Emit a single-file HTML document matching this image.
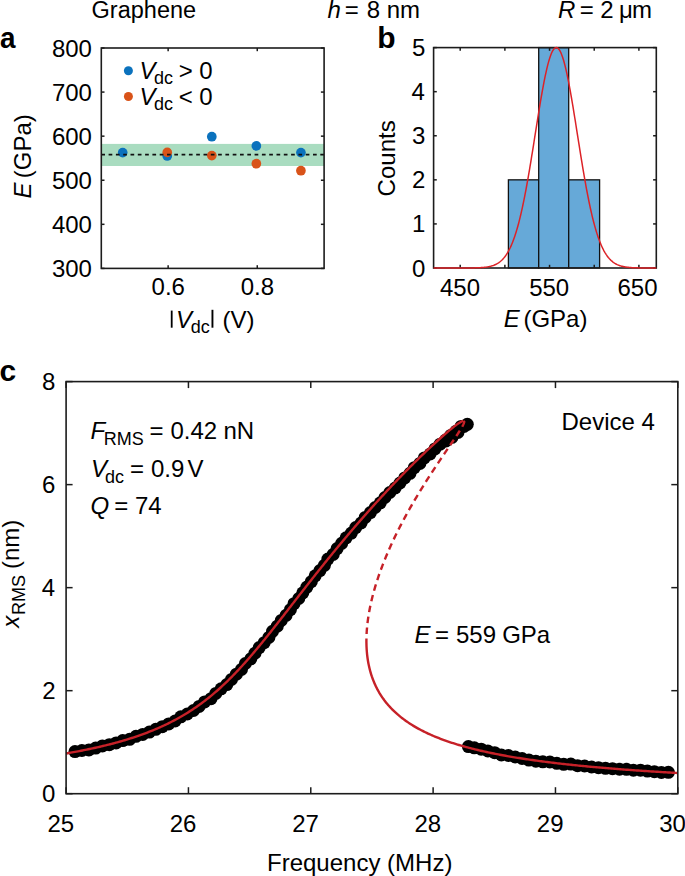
<!DOCTYPE html>
<html><head><meta charset="utf-8"><style>
html,body{margin:0;padding:0;background:#fff;}
svg{display:block;}
text{font-family:"Liberation Sans", sans-serif;fill:#000;}
</style></head><body>
<svg width="685" height="876" viewBox="0 0 685 876">
<rect width="685" height="876" fill="#fff"/>
<text x="91.60" y="17.70" font-size="23.5">Graphene</text>
<text x="327.60" y="17.50" font-size="24" font-style="italic">h</text>
<text x="344.70" y="17.50" font-size="24">=</text>
<text x="366.80" y="17.50" font-size="24">8</text>
<text x="386.70" y="17.50" font-size="24">nm</text>
<text x="558.00" y="17.50" font-size="24" font-style="italic">R</text>
<text x="579.70" y="17.50" font-size="24">=</text>
<text x="600.20" y="17.50" font-size="24">2</text>
<text x="619.10" y="17.50" font-size="24">μ</text>
<text x="631.90" y="17.50" font-size="24">m</text>
<g transform="translate(0.9,0) scale(0.93,1)">
<text x="-0.90" y="48.40" font-size="30" font-weight="bold">a</text>
</g>
<text x="377.30" y="47.70" font-size="30" font-weight="bold">b</text>
<text x="-0.60" y="381.20" font-size="30" font-weight="bold">c</text>
<rect x="101.30" y="143.90" width="222.80" height="22.10" fill="#a9dcc0"/>
<circle cx="122.68" cy="152.60" r="4.85" fill="#0b72bd"/>
<circle cx="167.24" cy="156.00" r="4.85" fill="#0b72bd"/>
<circle cx="211.80" cy="136.70" r="4.85" fill="#0b72bd"/>
<circle cx="256.36" cy="145.90" r="4.85" fill="#0b72bd"/>
<circle cx="300.92" cy="152.60" r="4.85" fill="#0b72bd"/>
<circle cx="167.24" cy="152.40" r="4.85" fill="#d95319"/>
<circle cx="211.80" cy="155.60" r="4.85" fill="#d95319"/>
<circle cx="256.36" cy="163.70" r="4.85" fill="#d95319"/>
<circle cx="300.92" cy="170.70" r="4.85" fill="#d95319"/>
<line x1="101.30" y1="154.60" x2="324.10" y2="154.60" stroke="#111" stroke-width="1.7" stroke-dasharray="3.7 3.6"/>
<rect x="101.30" y="48.00" width="222.80" height="220.40" fill="none" stroke="#1c1c1c" stroke-width="1.6"/>
<line x1="101.30" y1="268.40" x2="104.50" y2="268.40" stroke="#1c1c1c" stroke-width="1.5" />
<line x1="324.10" y1="268.40" x2="320.90" y2="268.40" stroke="#1c1c1c" stroke-width="1.5" />
<text x="51.90" y="276.90" font-size="24">300</text>
<line x1="101.30" y1="224.32" x2="104.50" y2="224.32" stroke="#1c1c1c" stroke-width="1.5" />
<line x1="324.10" y1="224.32" x2="320.90" y2="224.32" stroke="#1c1c1c" stroke-width="1.5" />
<text x="51.90" y="232.82" font-size="24">400</text>
<line x1="101.30" y1="180.24" x2="104.50" y2="180.24" stroke="#1c1c1c" stroke-width="1.5" />
<line x1="324.10" y1="180.24" x2="320.90" y2="180.24" stroke="#1c1c1c" stroke-width="1.5" />
<text x="51.90" y="188.74" font-size="24">500</text>
<line x1="101.30" y1="136.16" x2="104.50" y2="136.16" stroke="#1c1c1c" stroke-width="1.5" />
<line x1="324.10" y1="136.16" x2="320.90" y2="136.16" stroke="#1c1c1c" stroke-width="1.5" />
<text x="51.90" y="144.66" font-size="24">600</text>
<line x1="101.30" y1="92.08" x2="104.50" y2="92.08" stroke="#1c1c1c" stroke-width="1.5" />
<line x1="324.10" y1="92.08" x2="320.90" y2="92.08" stroke="#1c1c1c" stroke-width="1.5" />
<text x="51.90" y="100.58" font-size="24">700</text>
<line x1="101.30" y1="48.00" x2="104.50" y2="48.00" stroke="#1c1c1c" stroke-width="1.5" />
<line x1="324.10" y1="48.00" x2="320.90" y2="48.00" stroke="#1c1c1c" stroke-width="1.5" />
<text x="51.90" y="56.50" font-size="24">800</text>
<line x1="168.14" y1="268.40" x2="168.14" y2="265.20" stroke="#1c1c1c" stroke-width="1.5" />
<line x1="168.14" y1="48.00" x2="168.14" y2="51.20" stroke="#1c1c1c" stroke-width="1.5" />
<text x="151.54" y="295.40" font-size="24">0.6</text>
<line x1="257.26" y1="268.40" x2="257.26" y2="265.20" stroke="#1c1c1c" stroke-width="1.5" />
<line x1="257.26" y1="48.00" x2="257.26" y2="51.20" stroke="#1c1c1c" stroke-width="1.5" />
<text x="240.66" y="295.40" font-size="24">0.8</text>
<circle cx="128.4" cy="70.8" r="4.5" fill="#0b72bd"/>
<circle cx="128.4" cy="96.5" r="4.5" fill="#d95319"/>
<text x="139.40" y="78.70" font-size="24" font-style="italic">V</text>
<text x="154.00" y="84.00" font-size="18">dc</text>
<text x="178.80" y="78.70" font-size="24">&gt;</text>
<text x="199.30" y="78.70" font-size="24">0</text>
<text x="139.40" y="105.00" font-size="24" font-style="italic">V</text>
<text x="154.00" y="110.30" font-size="18">dc</text>
<text x="178.80" y="105.00" font-size="24">&lt;</text>
<text x="199.30" y="105.00" font-size="24">0</text>
<g transform="translate(31.00,197.90) rotate(-90)">
<text x="-0.70" y="0.00" font-size="24" font-style="italic">E</text>
<text x="19.70" y="0.00" font-size="24">(GPa)</text>
</g>
<rect x="170.8" y="310.6" width="1.8" height="17.1" fill="#000"/>
<text x="176.10" y="327.70" font-size="24" font-style="italic">V</text>
<text x="190.70" y="333.20" font-size="18">dc</text>
<rect x="211.5" y="309.8" width="1.9" height="17.9" fill="#000"/>
<text x="222.40" y="327.70" font-size="24">(V)</text>
<rect x="508.40" y="179.84" width="30.30" height="88.16" fill="#66a9d8" stroke="#111" stroke-width="1.3"/>
<rect x="538.70" y="47.60" width="30.00" height="220.40" fill="#66a9d8" stroke="#111" stroke-width="1.3"/>
<rect x="568.70" y="179.84" width="30.90" height="88.16" fill="#66a9d8" stroke="#111" stroke-width="1.3"/>
<rect x="433.60" y="47.60" width="222.70" height="220.40" fill="none" stroke="#1c1c1c" stroke-width="1.6"/>
<line x1="433.60" y1="268.00" x2="436.80" y2="268.00" stroke="#1c1c1c" stroke-width="1.5" />
<line x1="656.30" y1="268.00" x2="653.10" y2="268.00" stroke="#1c1c1c" stroke-width="1.5" />
<text x="411.90" y="276.50" font-size="24">0</text>
<line x1="433.60" y1="223.92" x2="436.80" y2="223.92" stroke="#1c1c1c" stroke-width="1.5" />
<line x1="656.30" y1="223.92" x2="653.10" y2="223.92" stroke="#1c1c1c" stroke-width="1.5" />
<text x="412.10" y="232.42" font-size="24">1</text>
<line x1="433.60" y1="179.84" x2="436.80" y2="179.84" stroke="#1c1c1c" stroke-width="1.5" />
<line x1="656.30" y1="179.84" x2="653.10" y2="179.84" stroke="#1c1c1c" stroke-width="1.5" />
<text x="412.10" y="188.34" font-size="24">2</text>
<line x1="433.60" y1="135.76" x2="436.80" y2="135.76" stroke="#1c1c1c" stroke-width="1.5" />
<line x1="656.30" y1="135.76" x2="653.10" y2="135.76" stroke="#1c1c1c" stroke-width="1.5" />
<text x="412.00" y="144.26" font-size="24">3</text>
<line x1="433.60" y1="91.68" x2="436.80" y2="91.68" stroke="#1c1c1c" stroke-width="1.5" />
<line x1="656.30" y1="91.68" x2="653.10" y2="91.68" stroke="#1c1c1c" stroke-width="1.5" />
<text x="411.60" y="100.18" font-size="24">4</text>
<line x1="433.60" y1="47.60" x2="436.80" y2="47.60" stroke="#1c1c1c" stroke-width="1.5" />
<line x1="656.30" y1="47.60" x2="653.10" y2="47.60" stroke="#1c1c1c" stroke-width="1.5" />
<text x="412.00" y="56.10" font-size="24">5</text>
<line x1="460.20" y1="268.00" x2="460.20" y2="264.80" stroke="#1c1c1c" stroke-width="1.5" />
<line x1="460.20" y1="47.60" x2="460.20" y2="50.80" stroke="#1c1c1c" stroke-width="1.5" />
<line x1="504.88" y1="268.00" x2="504.88" y2="264.80" stroke="#1c1c1c" stroke-width="1.5" />
<line x1="504.88" y1="47.60" x2="504.88" y2="50.80" stroke="#1c1c1c" stroke-width="1.5" />
<line x1="549.55" y1="268.00" x2="549.55" y2="264.80" stroke="#1c1c1c" stroke-width="1.5" />
<line x1="549.55" y1="47.60" x2="549.55" y2="50.80" stroke="#1c1c1c" stroke-width="1.5" />
<line x1="594.23" y1="268.00" x2="594.23" y2="264.80" stroke="#1c1c1c" stroke-width="1.5" />
<line x1="594.23" y1="47.60" x2="594.23" y2="50.80" stroke="#1c1c1c" stroke-width="1.5" />
<line x1="638.90" y1="268.00" x2="638.90" y2="264.80" stroke="#1c1c1c" stroke-width="1.5" />
<line x1="638.90" y1="47.60" x2="638.90" y2="50.80" stroke="#1c1c1c" stroke-width="1.5" />
<text x="440.00" y="296.00" font-size="24">450</text>
<text x="529.15" y="296.00" font-size="24">550</text>
<text x="617.45" y="296.00" font-size="24">650</text>
<path d="M433.60,268.00 L434.16,268.00 L434.72,268.00 L435.27,268.00 L435.83,268.00 L436.39,268.00 L436.95,268.00 L437.51,268.00 L438.07,268.00 L438.62,268.00 L439.18,268.00 L439.74,268.00 L440.30,268.00 L440.86,268.00 L441.41,268.00 L441.97,268.00 L442.53,268.00 L443.09,268.00 L443.65,268.00 L444.20,268.00 L444.76,268.00 L445.32,268.00 L445.88,268.00 L446.44,268.00 L447.00,268.00 L447.55,268.00 L448.11,268.00 L448.67,268.00 L449.23,268.00 L449.79,268.00 L450.34,268.00 L450.90,268.00 L451.46,268.00 L452.02,268.00 L452.58,268.00 L453.14,268.00 L453.69,268.00 L454.25,268.00 L454.81,268.00 L455.37,268.00 L455.93,268.00 L456.48,268.00 L457.04,268.00 L457.60,268.00 L458.16,268.00 L458.72,268.00 L459.27,267.99 L459.83,267.99 L460.39,267.99 L460.95,267.99 L461.51,267.99 L462.07,267.99 L462.62,267.99 L463.18,267.99 L463.74,267.99 L464.30,267.98 L464.86,267.98 L465.41,267.98 L465.97,267.98 L466.53,267.97 L467.09,267.97 L467.65,267.97 L468.21,267.96 L468.76,267.96 L469.32,267.95 L469.88,267.95 L470.44,267.94 L471.00,267.94 L471.55,267.93 L472.11,267.92 L472.67,267.91 L473.23,267.91 L473.79,267.89 L474.34,267.88 L474.90,267.87 L475.46,267.86 L476.02,267.84 L476.58,267.82 L477.14,267.81 L477.69,267.79 L478.25,267.76 L478.81,267.74 L479.37,267.71 L479.93,267.69 L480.48,267.65 L481.04,267.62 L481.60,267.58 L482.16,267.54 L482.72,267.50 L483.27,267.45 L483.83,267.39 L484.39,267.34 L484.95,267.28 L485.51,267.21 L486.07,267.13 L486.62,267.06 L487.18,266.97 L487.74,266.88 L488.30,266.78 L488.86,266.67 L489.41,266.55 L489.97,266.42 L490.53,266.29 L491.09,266.14 L491.65,265.98 L492.21,265.81 L492.76,265.63 L493.32,265.44 L493.88,265.23 L494.44,265.00 L495.00,264.76 L495.55,264.51 L496.11,264.23 L496.67,263.94 L497.23,263.62 L497.79,263.29 L498.34,262.93 L498.90,262.55 L499.46,262.15 L500.02,261.72 L500.58,261.26 L501.14,260.77 L501.69,260.26 L502.25,259.71 L502.81,259.13 L503.37,258.52 L503.93,257.88 L504.48,257.19 L505.04,256.47 L505.60,255.71 L506.16,254.91 L506.72,254.06 L507.28,253.18 L507.83,252.24 L508.39,251.26 L508.95,250.23 L509.51,249.15 L510.07,248.02 L510.62,246.83 L511.18,245.59 L511.74,244.30 L512.30,242.95 L512.86,241.53 L513.41,240.06 L513.97,238.53 L514.53,236.93 L515.09,235.28 L515.65,233.55 L516.21,231.76 L516.76,229.91 L517.32,227.99 L517.88,226.00 L518.44,223.94 L519.00,221.82 L519.55,219.62 L520.11,217.36 L520.67,215.03 L521.23,212.63 L521.79,210.16 L522.35,207.62 L522.90,205.02 L523.46,202.35 L524.02,199.61 L524.58,196.81 L525.14,193.95 L525.69,191.03 L526.25,188.05 L526.81,185.01 L527.37,181.91 L527.93,178.76 L528.48,175.56 L529.04,172.32 L529.60,169.02 L530.16,165.69 L530.72,162.32 L531.28,158.91 L531.83,155.48 L532.39,152.01 L532.95,148.52 L533.51,145.02 L534.07,141.50 L534.62,137.97 L535.18,134.43 L535.74,130.90 L536.30,127.37 L536.86,123.85 L537.42,120.34 L537.97,116.86 L538.53,113.40 L539.09,109.97 L539.65,106.58 L540.21,103.23 L540.76,99.93 L541.32,96.69 L541.88,93.50 L542.44,90.38 L543.00,87.33 L543.55,84.35 L544.11,81.46 L544.67,78.66 L545.23,75.94 L545.79,73.33 L546.35,70.81 L546.90,68.41 L547.46,66.11 L548.02,63.93 L548.58,61.88 L549.14,59.94 L549.69,58.14 L550.25,56.47 L550.81,54.93 L551.37,53.54 L551.93,52.28 L552.48,51.17 L553.04,50.21 L553.60,49.40 L554.16,48.73 L554.72,48.22 L555.28,47.86 L555.83,47.65 L556.39,47.60 L556.95,47.70 L557.51,47.96 L558.07,48.37 L558.62,48.93 L559.18,49.65 L559.74,50.51 L560.30,51.52 L560.86,52.68 L561.42,53.98 L561.97,55.42 L562.53,57.01 L563.09,58.72 L563.65,60.57 L564.21,62.54 L564.76,64.64 L565.32,66.86 L565.88,69.19 L566.44,71.63 L567.00,74.18 L567.55,76.83 L568.11,79.57 L568.67,82.41 L569.23,85.33 L569.79,88.33 L570.35,91.40 L570.90,94.54 L571.46,97.75 L572.02,101.01 L572.58,104.33 L573.14,107.69 L573.69,111.10 L574.25,114.53 L574.81,118.00 L575.37,121.49 L575.93,125.00 L576.49,128.53 L577.04,132.06 L577.60,135.60 L578.16,139.13 L578.72,142.66 L579.28,146.18 L579.83,149.68 L580.39,153.16 L580.95,156.61 L581.51,160.04 L582.07,163.43 L582.62,166.79 L583.18,170.11 L583.74,173.39 L584.30,176.62 L584.86,179.80 L585.42,182.94 L585.97,186.01 L586.53,189.04 L587.09,192.00 L587.65,194.90 L588.21,197.74 L588.76,200.52 L589.32,203.24 L589.88,205.88 L590.44,208.47 L591.00,210.98 L591.56,213.43 L592.11,215.80 L592.67,218.11 L593.23,220.35 L593.79,222.52 L594.35,224.63 L594.90,226.66 L595.46,228.63 L596.02,230.53 L596.58,232.36 L597.14,234.13 L597.69,235.83 L598.25,237.47 L598.81,239.04 L599.37,240.55 L599.93,242.01 L600.49,243.40 L601.04,244.73 L601.60,246.01 L602.16,247.23 L602.72,248.40 L603.28,249.51 L603.83,250.58 L604.39,251.59 L604.95,252.56 L605.51,253.47 L606.07,254.35 L606.63,255.18 L607.18,255.97 L607.74,256.71 L608.30,257.42 L608.86,258.09 L609.42,258.73 L609.97,259.33 L610.53,259.90 L611.09,260.43 L611.65,260.94 L612.21,261.41 L612.76,261.86 L613.32,262.28 L613.88,262.68 L614.44,263.05 L615.00,263.40 L615.56,263.73 L616.11,264.04 L616.67,264.32 L617.23,264.59 L617.79,264.84 L618.35,265.08 L618.90,265.30 L619.46,265.50 L620.02,265.69 L620.58,265.87 L621.14,266.04 L621.69,266.19 L622.25,266.33 L622.81,266.47 L623.37,266.59 L623.93,266.70 L624.49,266.81 L625.04,266.91 L625.60,267.00 L626.16,267.08 L626.72,267.16 L627.28,267.23 L627.83,267.30 L628.39,267.36 L628.95,267.41 L629.51,267.46 L630.07,267.51 L630.63,267.55 L631.18,267.59 L631.74,267.63 L632.30,267.66 L632.86,267.69 L633.42,267.72 L633.97,267.75 L634.53,267.77 L635.09,267.79 L635.65,267.81 L636.21,267.83 L636.76,267.85 L637.32,267.86 L637.88,267.87 L638.44,267.89 L639.00,267.90 L639.56,267.91 L640.11,267.92 L640.67,267.93 L641.23,267.93 L641.79,267.94 L642.35,267.95 L642.90,267.95 L643.46,267.96 L644.02,267.96 L644.58,267.97 L645.14,267.97 L645.70,267.97 L646.25,267.98 L646.81,267.98 L647.37,267.98 L647.93,267.98 L648.49,267.98 L649.04,267.99 L649.60,267.99 L650.16,267.99 L650.72,267.99 L651.28,267.99 L651.83,267.99 L652.39,267.99 L652.95,267.99 L653.51,267.99 L654.07,268.00 L654.63,268.00 L655.18,268.00 L655.74,268.00 L656.30,268.00" fill="none" stroke="#dc2227" stroke-width="1.5"/>
<g transform="translate(395.00,195.20) rotate(-90)">
<text x="-1.20" y="0.00" font-size="24">Counts</text>
</g>
<text x="503.80" y="327.00" font-size="24" font-style="italic">E</text>
<text x="523.40" y="327.00" font-size="24">(GPa)</text>
<g fill="#000"><circle cx="75.0" cy="751.6" r="6.5"/><circle cx="81.9" cy="750.5" r="6.5"/><circle cx="88.9" cy="749.9" r="6.5"/><circle cx="95.7" cy="748.1" r="6.5"/><circle cx="102.4" cy="745.9" r="6.5"/><circle cx="109.3" cy="744.7" r="6.5"/><circle cx="116.1" cy="742.9" r="6.5"/><circle cx="122.7" cy="740.6" r="6.5"/><circle cx="129.6" cy="739.3" r="6.5"/><circle cx="136.0" cy="736.3" r="6.5"/><circle cx="142.7" cy="734.4" r="6.5"/><circle cx="149.4" cy="732.1" r="6.5"/><circle cx="155.8" cy="729.3" r="6.5"/><circle cx="162.3" cy="726.7" r="6.5"/><circle cx="168.7" cy="723.9" r="6.5"/><circle cx="175.1" cy="721.0" r="6.5"/><circle cx="180.8" cy="716.8" r="6.5"/><circle cx="187.3" cy="714.0" r="6.5"/><circle cx="193.5" cy="710.5" r="6.5"/><circle cx="199.1" cy="706.4" r="6.5"/><circle cx="204.6" cy="701.9" r="6.5"/><circle cx="211.0" cy="698.7" r="6.5"/><circle cx="215.8" cy="693.4" r="6.5"/><circle cx="221.1" cy="688.8" r="6.5"/><circle cx="226.8" cy="684.6" r="6.5"/><circle cx="231.5" cy="679.4" r="6.5"/><circle cx="236.4" cy="674.2" r="6.5"/><circle cx="241.5" cy="669.4" r="6.5"/><circle cx="245.4" cy="663.5" r="6.5"/><circle cx="250.8" cy="658.8" r="6.5"/><circle cx="255.0" cy="653.2" r="6.5"/><circle cx="259.2" cy="647.6" r="6.5"/><circle cx="264.2" cy="642.7" r="6.5"/><circle cx="268.9" cy="637.4" r="6.5"/><circle cx="272.5" cy="631.3" r="6.5"/><circle cx="277.3" cy="626.2" r="6.5"/><circle cx="281.3" cy="620.4" r="6.5"/><circle cx="286.1" cy="615.3" r="6.5"/><circle cx="290.4" cy="609.7" r="6.5"/><circle cx="294.0" cy="603.7" r="6.5"/><circle cx="298.8" cy="598.5" r="6.5"/><circle cx="302.8" cy="592.8" r="6.5"/><circle cx="306.9" cy="587.1" r="6.5"/><circle cx="311.3" cy="581.7" r="6.5"/><circle cx="315.2" cy="575.8" r="6.5"/><circle cx="319.9" cy="570.6" r="6.5"/><circle cx="324.4" cy="565.3" r="6.5"/><circle cx="327.9" cy="559.1" r="6.5"/><circle cx="333.2" cy="554.4" r="6.5"/><circle cx="337.1" cy="548.6" r="6.5"/><circle cx="341.7" cy="543.3" r="6.5"/><circle cx="346.1" cy="537.8" r="6.5"/><circle cx="351.4" cy="533.1" r="6.5"/><circle cx="355.7" cy="527.6" r="6.5"/><circle cx="361.1" cy="523.0" r="6.5"/><circle cx="365.2" cy="517.4" r="6.5"/><circle cx="370.4" cy="512.6" r="6.5"/><circle cx="375.2" cy="507.5" r="6.5"/><circle cx="380.3" cy="502.8" r="6.5"/><circle cx="384.9" cy="497.5" r="6.5"/><circle cx="389.8" cy="492.5" r="6.5"/><circle cx="395.2" cy="488.0" r="6.5"/><circle cx="400.0" cy="483.0" r="6.5"/><circle cx="404.7" cy="477.9" r="6.5"/><circle cx="410.0" cy="473.3" r="6.5"/><circle cx="414.3" cy="467.7" r="6.5"/><circle cx="419.9" cy="463.4" r="6.5"/><circle cx="424.3" cy="457.9" r="6.5"/><circle cx="430.1" cy="454.0" r="6.5"/><circle cx="434.9" cy="448.9" r="6.5"/><circle cx="440.1" cy="444.2" r="6.5"/><circle cx="445.6" cy="440.1" r="6.5"/><circle cx="450.7" cy="435.4" r="6.5"/><circle cx="456.1" cy="431.2" r="6.5"/><circle cx="461.1" cy="426.4" r="6.5"/><circle cx="467.3" cy="424.3" r="6.5"/><circle cx="464.0" cy="426.5" r="6.5"/><circle cx="446.0" cy="441.0" r="6.5"/><circle cx="452.0" cy="437.3" r="6.5"/><circle cx="458.0" cy="432.5" r="6.5"/></g>
<g fill="#000"><circle cx="474.3" cy="747.8" r="6.5"/><circle cx="481.2" cy="749.2" r="6.5"/><circle cx="487.9" cy="751.0" r="6.5"/><circle cx="494.7" cy="752.7" r="6.5"/><circle cx="501.4" cy="755.0" r="6.5"/><circle cx="508.4" cy="755.5" r="6.5"/><circle cx="515.2" cy="757.0" r="6.5"/><circle cx="522.1" cy="758.5" r="6.5"/><circle cx="528.9" cy="760.1" r="6.5"/><circle cx="535.9" cy="761.2" r="6.5"/><circle cx="542.8" cy="761.8" r="6.5"/><circle cx="549.9" cy="762.0" r="6.5"/><circle cx="556.8" cy="763.3" r="6.5"/><circle cx="563.7" cy="764.3" r="6.5"/><circle cx="570.8" cy="764.1" r="6.5"/><circle cx="577.6" cy="765.7" r="6.5"/><circle cx="584.6" cy="766.0" r="6.5"/><circle cx="591.6" cy="767.0" r="6.5"/><circle cx="598.5" cy="767.7" r="6.5"/><circle cx="605.5" cy="768.3" r="6.5"/><circle cx="612.5" cy="768.7" r="6.5"/><circle cx="619.5" cy="769.2" r="6.5"/><circle cx="626.5" cy="769.3" r="6.5"/><circle cx="633.4" cy="770.2" r="6.5"/><circle cx="640.5" cy="770.2" r="6.5"/><circle cx="647.4" cy="771.1" r="6.5"/><circle cx="654.4" cy="771.7" r="6.5"/><circle cx="661.4" cy="772.4" r="6.5"/><circle cx="668.4" cy="772.3" r="6.5"/><circle cx="468.4" cy="746.6" r="6.5"/></g>
<path d="M66.11,753.46 L67.59,753.21 L69.07,752.95 L70.55,752.69 L72.02,752.43 L73.50,752.16 L74.97,751.89 L76.45,751.62 L77.92,751.34 L79.40,751.06 L80.87,750.77 L82.34,750.49 L83.81,750.19 L85.28,749.90 L86.75,749.60 L88.22,749.30 L89.69,748.99 L91.16,748.68 L92.62,748.36 L94.09,748.04 L95.55,747.72 L97.02,747.39 L98.48,747.06 L99.94,746.72 L101.40,746.38 L102.86,746.03 L104.32,745.68 L105.78,745.33 L107.23,744.96 L108.69,744.60 L110.14,744.23 L111.59,743.85 L113.04,743.47 L114.49,743.09 L115.94,742.69 L117.39,742.30 L118.83,741.89 L120.28,741.49 L121.72,741.07 L123.16,740.65 L124.60,740.23 L126.03,739.79 L127.47,739.36 L128.90,738.91 L130.33,738.46 L131.76,738.00 L133.19,737.54 L134.61,737.07 L136.03,736.59 L137.45,736.11 L138.87,735.62 L140.29,735.12 L141.70,734.62 L143.11,734.11 L144.52,733.59 L145.92,733.06 L147.32,732.53 L148.72,731.99 L150.12,731.44 L151.51,730.88 L152.90,730.32 L154.29,729.75 L155.67,729.17 L157.05,728.58 L158.43,727.98 L159.80,727.38 L161.17,726.76 L162.53,726.14 L163.89,725.51 L165.25,724.87 L166.61,724.23 L167.95,723.57 L169.30,722.91 L170.64,722.23 L171.98,721.55 L173.31,720.86 L174.64,720.16 L175.96,719.46 L177.27,718.74 L178.59,718.01 L179.90,717.28 L181.20,716.53 L182.50,715.78 L183.79,715.02 L185.07,714.25 L186.36,713.47 L187.63,712.68 L188.90,711.88 L190.17,711.08 L191.43,710.26 L192.68,709.44 L193.93,708.61 L195.17,707.76 L196.41,706.91 L197.64,706.06 L198.86,705.19 L200.08,704.31 L201.29,703.43 L202.50,702.54 L203.70,701.64 L204.89,700.73 L206.08,699.81 L207.26,698.89 L208.44,697.96 L209.61,697.02 L210.77,696.07 L211.93,695.12 L213.08,694.16 L214.22,693.19 L215.36,692.21 L216.50,691.23 L217.62,690.24 L218.75,689.25 L219.86,688.24 L220.97,687.24 L222.08,686.22 L223.18,685.20 L224.27,684.17 L225.36,683.14 L226.44,682.10 L227.52,681.06 L228.59,680.01 L229.65,678.95 L230.72,677.89 L231.77,676.83 L232.82,675.76 L233.87,674.69 L234.91,673.61 L235.95,672.52 L236.98,671.44 L238.01,670.34 L239.04,669.25 L240.06,668.15 L241.07,667.04 L242.08,665.94 L243.09,664.82 L244.09,663.71 L245.09,662.59 L246.09,661.47 L247.08,660.35 L248.07,659.22 L249.06,658.09 L250.04,656.95 L251.02,655.82 L252.00,654.68 L252.97,653.54 L253.94,652.39 L254.91,651.25 L255.87,650.10 L256.83,648.95 L257.79,647.80 L258.75,646.64 L259.71,645.48 L260.66,644.33 L261.61,643.16 L262.56,642.00 L263.50,640.84 L264.45,639.67 L265.39,638.51 L266.33,637.34 L267.27,636.17 L268.21,635.00 L269.15,633.83 L270.08,632.65 L271.01,631.48 L271.95,630.31 L272.88,629.13 L273.81,627.95 L274.74,626.77 L275.67,625.60 L276.59,624.42 L277.52,623.24 L278.44,622.06 L279.37,620.87 L280.29,619.69 L281.22,618.51 L282.14,617.33 L283.06,616.15 L283.98,614.96 L284.90,613.78 L285.82,612.59 L286.74,611.41 L287.67,610.23 L288.59,609.04 L289.51,607.86 L290.43,606.67 L291.35,605.49 L292.27,604.30 L293.19,603.12 L294.11,601.93 L295.03,600.75 L295.95,599.56 L296.87,598.38 L297.79,597.20 L298.71,596.01 L299.63,594.83 L300.55,593.64 L301.47,592.46 L302.40,591.28 L303.32,590.10 L304.24,588.91 L305.17,587.73 L306.09,586.55 L307.02,585.37 L307.94,584.19 L308.87,583.01 L309.80,581.83 L310.72,580.65 L311.65,579.47 L312.58,578.30 L313.51,577.12 L314.44,575.94 L315.37,574.77 L316.30,573.59 L317.24,572.42 L318.17,571.24 L319.11,570.07 L320.04,568.90 L320.98,567.73 L321.92,566.56 L322.85,565.39 L323.79,564.22 L324.73,563.05 L325.68,561.88 L326.62,560.71 L327.56,559.55 L328.51,558.38 L329.45,557.22 L330.40,556.05 L331.35,554.89 L332.30,553.73 L333.25,552.57 L334.20,551.41 L335.15,550.25 L336.10,549.09 L337.06,547.94 L338.01,546.78 L338.97,545.62 L339.93,544.47 L340.89,543.32 L341.85,542.17 L342.81,541.01 L343.77,539.86 L344.74,538.72 L345.70,537.57 L346.67,536.42 L347.64,535.28 L348.61,534.13 L349.58,532.99 L350.55,531.84 L351.53,530.70 L352.50,529.56 L353.48,528.42 L354.45,527.29 L355.43,526.15 L356.41,525.01 L357.39,523.88 L358.38,522.75 L359.36,521.61 L360.35,520.48 L361.33,519.35 L362.32,518.23 L363.31,517.10 L364.30,515.97 L365.29,514.85 L366.29,513.72 L367.28,512.60 L368.28,511.48 L369.28,510.36 L370.28,509.24 L371.28,508.12 L372.28,507.01 L373.28,505.89 L374.29,504.78 L375.29,503.67 L376.30,502.56 L377.31,501.45 L378.32,500.34 L379.33,499.23 L380.35,498.13 L381.36,497.02 L382.38,495.92 L383.40,494.82 L384.42,493.72 L385.44,492.62 L386.46,491.52 L387.48,490.42 L388.51,489.33 L389.54,488.24 L390.57,487.14 L391.60,486.05 L392.63,484.97 L393.66,483.88 L394.69,482.79 L395.73,481.71 L396.77,480.62 L397.81,479.54 L398.85,478.46 L399.89,477.38 L400.93,476.31 L401.98,475.23 L403.03,474.16 L404.08,473.08 L405.13,472.01 L406.18,470.94 L407.23,469.88 L408.29,468.81 L409.34,467.75 L410.40,466.68 L411.46,465.62 L412.53,464.56 L413.59,463.51 L414.65,462.45 L415.72,461.40 L416.79,460.34 L417.86,459.29 L418.93,458.24 L420.01,457.20 L421.09,456.15 L422.16,455.11 L423.24,454.07 L424.33,453.03 L425.41,451.99 L426.50,450.96 L427.59,449.93 L428.68,448.90 L429.77,447.87 L430.86,446.85 L431.96,445.82 L433.06,444.80 L434.16,443.79 L435.27,442.77 L436.38,441.76 L437.49,440.75 L438.60,439.75 L439.72,438.74 L440.84,437.75 L441.96,436.75 L443.08,435.76 L444.21,434.77 L445.35,433.79 L446.49,432.82 L447.63,431.84 L448.78,430.88 L449.93,429.92 L451.09,428.97 L452.26,428.03 L453.43,427.09 L454.62,426.17 L455.81,425.26 L457.02,424.38 L458.24,423.51 L459.49,422.68 L460.77,421.90 L462.11,421.22 L463.40,420.84" fill="none" stroke="#c62128" stroke-width="2.4" stroke-linejoin="round"/>
<path d="M463.61,420.84 L464.25,421.97 L463.83,423.41 L463.22,424.78 L462.53,426.11 L461.79,427.41 L461.03,428.71 L460.25,429.99 L459.45,431.26 L458.64,432.52 L457.83,433.78 L457.01,435.03 L456.18,436.29 L455.35,437.53 L454.51,438.78 L453.67,440.02 L452.83,441.27 L451.99,442.51 L451.15,443.75 L450.31,444.99 L449.46,446.23 L448.62,447.47 L447.77,448.71 L446.93,449.95 L446.09,451.19 L445.24,452.43 L444.40,453.67 L443.56,454.91 L442.72,456.15 L441.88,457.40 L441.04,458.64 L440.20,459.88 L439.36,461.13 L438.53,462.38 L437.69,463.62 L436.86,464.87 L436.03,466.12 L435.20,467.37 L434.38,468.62 L433.55,469.88 L432.73,471.13 L431.91,472.39 L431.09,473.64 L430.27,474.90 L429.46,476.16 L428.65,477.42 L427.84,478.68 L427.03,479.95 L426.23,481.21 L425.42,482.48 L424.62,483.75 L423.83,485.02 L423.03,486.29 L422.24,487.57 L421.45,488.84 L420.67,490.12 L419.88,491.40 L419.10,492.68 L418.32,493.96 L417.55,495.25 L416.78,496.53 L416.01,497.82 L415.24,499.11 L414.48,500.40 L413.72,501.70 L412.97,502.99 L412.21,504.29 L411.47,505.59 L410.72,506.89 L409.98,508.20 L409.24,509.50 L408.50,510.81 L407.77,512.12 L407.04,513.43 L406.32,514.74 L405.60,516.06 L404.88,517.38 L404.17,518.70 L403.46,520.02 L402.76,521.34 L402.06,522.67 L401.36,524.00 L400.67,525.33 L399.98,526.66 L399.30,528.00 L398.62,529.33 L397.94,530.67 L397.27,532.02 L396.60,533.36 L395.94,534.71 L395.29,536.05 L394.63,537.40 L393.99,538.76 L393.34,540.11 L392.71,541.47 L392.07,542.83 L391.44,544.19 L390.82,545.56 L390.20,546.92 L389.59,548.29 L388.99,549.67 L388.38,551.04 L387.79,552.42 L387.20,553.80 L386.61,555.18 L386.03,556.56 L385.46,557.95 L384.89,559.34 L384.33,560.73 L383.78,562.12 L383.23,563.52 L382.69,564.91 L382.15,566.32 L381.62,567.72 L381.10,569.12 L380.58,570.53 L380.07,571.94 L379.57,573.36 L379.07,574.77 L378.58,576.19 L378.10,577.61 L377.63,579.03 L377.16,580.46 L376.70,581.89 L376.25,583.32 L375.81,584.75 L375.37,586.19 L374.94,587.62 L374.52,589.06 L374.11,590.51 L373.71,591.95 L373.32,593.40 L372.93,594.85 L372.56,596.30 L372.19,597.76 L371.83,599.21 L371.48,600.67 L371.15,602.13 L370.82,603.60 L370.50,605.06 L370.19,606.53 L369.89,608.00 L369.61,609.47 L369.33,610.95 L369.06,612.42 L368.81,613.90 L368.57,615.38 L368.33,616.86 L368.12,618.35 L367.91,619.83 L367.71,621.32 L367.53,622.81 L367.36,624.30 L367.20,625.79 L367.06,627.28 L366.93,628.78 L366.81,630.27 L366.71,631.77 L366.63,633.27 L366.55,634.77 L366.49,636.27 L366.45,637.77 L366.43,639.26 L366.41,640.76 L366.41,641.03" fill="none" stroke="#c62128" stroke-width="2.4" stroke-dasharray="6.5 4.5"/>
<path d="M366.41,641.03 L366.42,642.53 L366.45,644.03 L366.49,645.53 L366.55,647.03 L366.62,648.53 L366.72,650.03 L366.83,651.52 L366.96,653.02 L367.11,654.51 L367.28,656.00 L367.47,657.49 L367.68,658.97 L367.91,660.46 L368.16,661.93 L368.43,663.41 L368.72,664.88 L369.03,666.35 L369.37,667.81 L369.73,669.27 L370.11,670.72 L370.51,672.16 L370.93,673.60 L371.38,675.03 L371.85,676.46 L372.35,677.87 L372.86,679.28 L373.40,680.68 L373.97,682.07 L374.56,683.45 L375.17,684.82 L375.81,686.18 L376.47,687.52 L377.15,688.86 L377.86,690.18 L378.59,691.49 L379.34,692.79 L380.12,694.07 L380.92,695.34 L381.74,696.59 L382.59,697.83 L383.46,699.06 L384.34,700.27 L385.25,701.46 L386.18,702.64 L387.13,703.80 L388.10,704.94 L389.09,706.07 L390.10,707.18 L391.13,708.27 L392.18,709.35 L393.24,710.41 L394.32,711.45 L395.41,712.47 L396.52,713.48 L397.65,714.47 L398.79,715.44 L399.95,716.40 L401.12,717.34 L402.30,718.26 L403.49,719.17 L404.70,720.06 L405.92,720.93 L407.15,721.79 L408.39,722.63 L409.64,723.46 L410.90,724.27 L412.17,725.07 L413.46,725.85 L414.74,726.62 L416.04,727.37 L417.35,728.11 L418.66,728.83 L419.98,729.55 L421.31,730.24 L422.64,730.93 L423.98,731.60 L425.33,732.26 L426.68,732.91 L428.04,733.55 L429.41,734.17 L430.77,734.78 L432.15,735.39 L433.53,735.98 L434.91,736.56 L436.30,737.13 L437.69,737.69 L439.09,738.24 L440.49,738.78 L441.89,739.31 L443.29,739.83 L444.70,740.34 L446.12,740.84 L447.53,741.34 L448.95,741.82 L450.38,742.30 L451.80,742.77 L453.23,743.23 L454.66,743.68 L456.09,744.13 L457.52,744.57 L458.96,745.00 L460.40,745.42 L461.84,745.84 L463.28,746.25 L464.73,746.66 L466.17,747.05 L467.62,747.44 L469.07,747.83 L470.52,748.21 L471.97,748.58 L473.43,748.95 L474.88,749.31 L476.34,749.67 L477.80,750.02 L479.26,750.36 L480.72,750.71 L482.18,751.04 L483.65,751.37 L485.11,751.70 L486.58,752.02 L488.04,752.33 L489.51,752.65 L490.98,752.95 L492.45,753.26 L493.92,753.55 L495.39,753.85 L496.86,754.14 L498.33,754.43 L499.80,754.71 L501.28,754.99 L502.75,755.26 L504.23,755.53 L505.70,755.80 L507.18,756.06 L508.66,756.32 L510.14,756.58 L511.61,756.83 L513.09,757.08 L514.57,757.33 L516.05,757.57 L517.53,757.81 L519.01,758.05 L520.50,758.29 L521.98,758.52 L523.46,758.75 L524.94,758.97 L526.43,759.20 L527.91,759.42 L529.39,759.63 L530.88,759.85 L532.36,760.06 L533.85,760.27 L535.34,760.48 L536.82,760.68 L538.31,760.89 L539.79,761.09 L541.28,761.28 L542.77,761.48 L544.26,761.67 L545.74,761.86 L547.23,762.05 L548.72,762.24 L550.21,762.42 L551.70,762.61 L553.19,762.79 L554.68,762.96 L556.17,763.14 L557.66,763.32 L559.15,763.49 L560.64,763.66 L562.13,763.83 L563.62,764.00 L565.11,764.16 L566.60,764.32 L568.09,764.49 L569.58,764.65 L571.07,764.80 L572.56,764.96 L574.06,765.12 L575.55,765.27 L577.04,765.42 L578.53,765.57 L580.03,765.72 L581.52,765.87 L583.01,766.02 L584.50,766.16 L586.00,766.30 L587.49,766.44 L588.98,766.58 L590.48,766.72 L591.97,766.86 L593.47,767.00 L594.96,767.13 L596.45,767.27 L597.95,767.40 L599.44,767.53 L600.94,767.66 L602.43,767.79 L603.93,767.91 L605.42,768.04 L606.91,768.17 L608.41,768.29 L609.90,768.41 L611.40,768.53 L612.89,768.65 L614.39,768.77 L615.89,768.89 L617.38,769.01 L618.88,769.13 L620.37,769.24 L621.87,769.35 L623.36,769.47 L624.86,769.58 L626.35,769.69 L627.85,769.80 L629.35,769.91 L630.84,770.02 L632.34,770.13 L633.84,770.23 L635.33,770.34 L636.83,770.44 L638.32,770.55 L639.82,770.65 L641.32,770.75 L642.81,770.85 L644.31,770.95 L645.81,771.05 L647.30,771.15 L648.80,771.25 L650.30,771.34 L651.79,771.44 L653.29,771.54 L654.79,771.63 L656.29,771.72 L657.78,771.82 L659.28,771.91 L660.78,772.00 L662.27,772.09 L663.77,772.18 L665.27,772.27 L666.77,772.36 L668.26,772.45 L669.76,772.54 L671.26,772.62 L672.76,772.71 L674.25,772.79 L675.75,772.88 L677.25,772.96 L677.78,772.99" fill="none" stroke="#c62128" stroke-width="2.4"/>
<rect x="66.10" y="381.60" width="611.70" height="412.10" fill="none" stroke="#1c1c1c" stroke-width="1.6"/>
<line x1="66.10" y1="793.70" x2="72.60" y2="793.70" stroke="#1c1c1c" stroke-width="1.5" />
<line x1="677.80" y1="793.70" x2="671.30" y2="793.70" stroke="#1c1c1c" stroke-width="1.5" />
<text x="42.00" y="802.20" font-size="24">0</text>
<line x1="66.10" y1="690.68" x2="72.60" y2="690.68" stroke="#1c1c1c" stroke-width="1.5" />
<line x1="677.80" y1="690.68" x2="671.30" y2="690.68" stroke="#1c1c1c" stroke-width="1.5" />
<text x="42.20" y="699.18" font-size="24">2</text>
<line x1="66.10" y1="587.65" x2="72.60" y2="587.65" stroke="#1c1c1c" stroke-width="1.5" />
<line x1="677.80" y1="587.65" x2="671.30" y2="587.65" stroke="#1c1c1c" stroke-width="1.5" />
<text x="41.70" y="596.15" font-size="24">4</text>
<line x1="66.10" y1="484.62" x2="72.60" y2="484.62" stroke="#1c1c1c" stroke-width="1.5" />
<line x1="677.80" y1="484.62" x2="671.30" y2="484.62" stroke="#1c1c1c" stroke-width="1.5" />
<text x="42.10" y="493.12" font-size="24">6</text>
<line x1="66.10" y1="381.60" x2="72.60" y2="381.60" stroke="#1c1c1c" stroke-width="1.5" />
<line x1="677.80" y1="381.60" x2="671.30" y2="381.60" stroke="#1c1c1c" stroke-width="1.5" />
<text x="42.10" y="390.10" font-size="24">8</text>
<line x1="66.10" y1="793.70" x2="66.10" y2="787.20" stroke="#1c1c1c" stroke-width="1.5" />
<line x1="66.10" y1="381.60" x2="66.10" y2="388.10" stroke="#1c1c1c" stroke-width="1.5" />
<text x="47.40" y="831.70" font-size="24">25</text>
<line x1="188.44" y1="793.70" x2="188.44" y2="787.20" stroke="#1c1c1c" stroke-width="1.5" />
<line x1="188.44" y1="381.60" x2="188.44" y2="388.10" stroke="#1c1c1c" stroke-width="1.5" />
<text x="169.74" y="831.70" font-size="24">26</text>
<line x1="310.78" y1="793.70" x2="310.78" y2="787.20" stroke="#1c1c1c" stroke-width="1.5" />
<line x1="310.78" y1="381.60" x2="310.78" y2="388.10" stroke="#1c1c1c" stroke-width="1.5" />
<text x="292.13" y="831.70" font-size="24">27</text>
<line x1="433.12" y1="793.70" x2="433.12" y2="787.20" stroke="#1c1c1c" stroke-width="1.5" />
<line x1="433.12" y1="381.60" x2="433.12" y2="388.10" stroke="#1c1c1c" stroke-width="1.5" />
<text x="414.42" y="831.70" font-size="24">28</text>
<line x1="555.46" y1="793.70" x2="555.46" y2="787.20" stroke="#1c1c1c" stroke-width="1.5" />
<line x1="555.46" y1="381.60" x2="555.46" y2="388.10" stroke="#1c1c1c" stroke-width="1.5" />
<text x="536.81" y="831.70" font-size="24">29</text>
<line x1="677.80" y1="793.70" x2="677.80" y2="787.20" stroke="#1c1c1c" stroke-width="1.5" />
<line x1="677.80" y1="381.60" x2="677.80" y2="388.10" stroke="#1c1c1c" stroke-width="1.5" />
<text x="659.20" y="831.70" font-size="24">30</text>
<g transform="translate(19.20,628.70) rotate(-90)">
<text x="0.90" y="0.00" font-size="24" font-style="italic">x</text>
<text x="13.60" y="6.10" font-size="18">RMS</text>
<text x="59.70" y="0.00" font-size="24">(nm)</text>
</g>
<text x="267.00" y="870.70" font-size="24">Frequency (MHz)</text>
<text x="90.60" y="438.70" font-size="24" font-style="italic">F</text>
<text x="103.70" y="444.80" font-size="18">RMS</text>
<text x="149.40" y="438.70" font-size="24">=</text>
<text x="170.50" y="438.70" font-size="24">0.42</text>
<text x="223.50" y="438.70" font-size="24">nN</text>
<text x="91.10" y="476.90" font-size="24" font-style="italic">V</text>
<text x="105.10" y="483.10" font-size="18">dc</text>
<text x="129.90" y="476.90" font-size="24">=</text>
<text x="150.90" y="476.90" font-size="24">0.9</text>
<text x="187.40" y="476.90" font-size="24">V</text>
<text x="90.40" y="514.40" font-size="24" font-style="italic">Q</text>
<text x="114.20" y="514.40" font-size="24">=</text>
<text x="135.00" y="514.40" font-size="24">74</text>
<text x="561.50" y="430.20" font-size="24">Device 4</text>
<text x="414.50" y="643.00" font-size="24" font-style="italic">E</text>
<text x="435.00" y="643.00" font-size="24">=</text>
<text x="456.00" y="643.00" font-size="24">559</text>
<text x="502.20" y="643.00" font-size="24">GPa</text>
</svg>
</body></html>
